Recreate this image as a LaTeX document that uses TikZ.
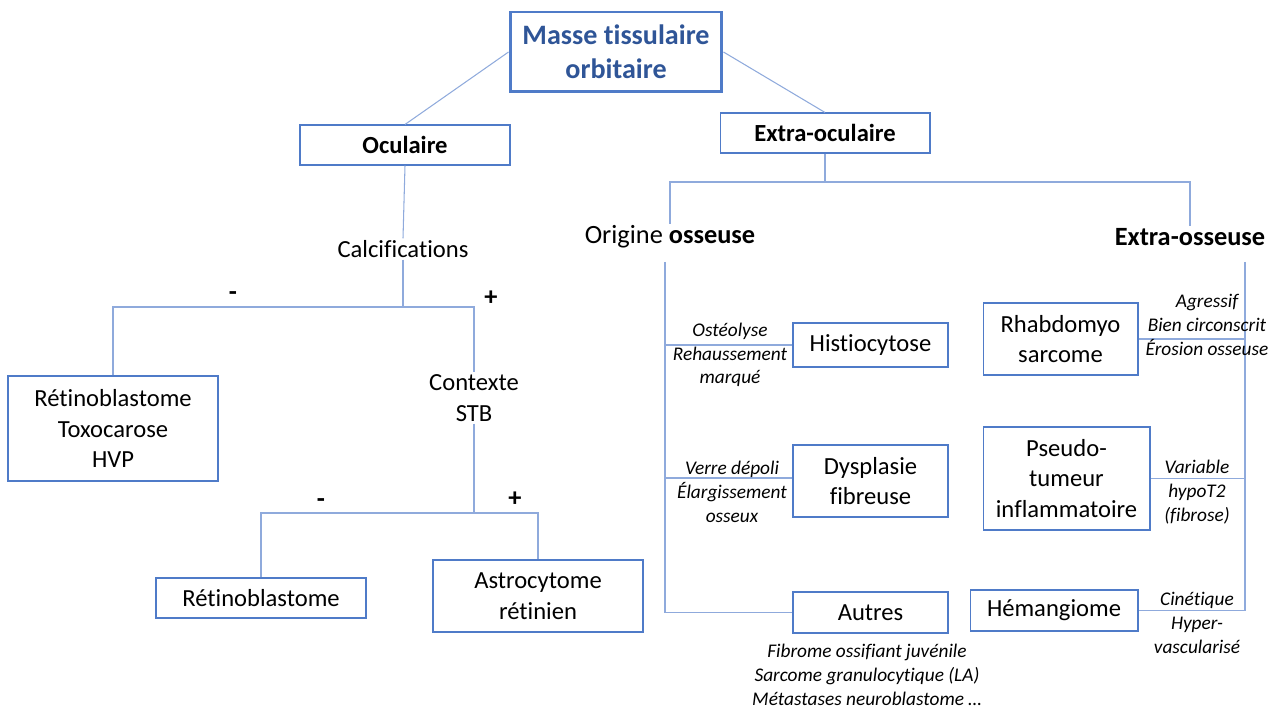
\documentclass[tikz,border=0pt]{standalone}
\usepackage{fontspec}
\setmainfont{Carlito}[Ligatures=NoCommon]
\usetikzlibrary{positioning,calc}
\definecolor{linkblue}{HTML}{8FAADC}
\definecolor{boxblue}{HTML}{4F7BC8}
\definecolor{titleblue}{HTML}{2F5597}
\begin{document}
\begin{tikzpicture}[x=0.02cm,y=-0.02cm,
  box/.style={draw=boxblue,line width=0.6pt,align=center,inner sep=2pt,
    font=\fontsize{14}{17.5}\selectfont},
  txt/.style={align=center,inner sep=1pt,font=\fontsize{14}{17.5}\selectfont},
  note/.style={align=center,inner sep=1pt,font=\fontsize{11}{13.5}\selectfont\itshape},
  sign/.style={inner sep=1pt,font=\fontsize{15}{17}\selectfont\bfseries},
  link/.style={draw=linkblue,line width=0.6pt}]
  \useasboundingbox (0,0) rectangle (1271,709);
  % top of the tree
  \node[box,draw=boxblue,line width=1.7pt,minimum width=4.24cm,minimum height=1.6cm,
    text=titleblue,font=\fontsize{16}{19.3}\selectfont\bfseries] (masse) at (616,52)
    {Masse tissulaire\\orbitaire};
  \node[box,minimum width=4.2cm,minimum height=0.8cm,font=\fontsize{14}{17.5}\selectfont\bfseries]
    (ocul) at (405,145) {Oculaire};
  \node[box,minimum width=4.2cm,minimum height=0.8cm,font=\fontsize{14}{17.5}\selectfont\bfseries]
    (extra) at (825,133) {Extra-oculaire};
  \draw[link] (masse.west) -- (ocul.north);
  \draw[link] (masse.east) -- (extra.north);
  % oculaire
  \node[txt] (calc) at (403,249) {Calcifications};
  \node[txt] (stb) at (474,398) {Contexte\\STB};
  \node[box,minimum width=4.2cm,minimum height=2.1cm] (retox) at (113,428.5)
    {Rétinoblastome\\Toxocarose\\HVP};
  \node[box,minimum width=4.2cm,minimum height=0.8cm] (retino) at (261,598) {Rétinoblastome};
  \node[box,minimum width=4.2cm,minimum height=1.44cm] (astro) at (538,596)
    {Astrocytome\\rétinien};
  \coordinate (c1) at (403,307);
  \coordinate (c2) at (474,513);
  \draw[link] (ocul.south) -- (calc.north);
  \draw[link] (calc.south) -- (c1);
  \draw[link] (retox.north) |- (c1) -| (stb.north);
  \draw[link] (stb.south) -- (c2);
  \draw[link] (retino.north) |- (c2) -| (astro.north);
  \node[sign] at (233,296) {-};
  \node[sign] at (491,298) {+};
  \node[sign] at (321,503) {-};
  \node[sign] at (515,499) {+};
  % extra-oculaire
  \coordinate (e1) at (825,182);
  \node[txt,font=\fontsize{15}{18}\selectfont] (orig) at (670,237) {Origine \textbf{osseuse}};
  \node[txt,font=\fontsize{15}{18}\selectfont\bfseries] (extos) at (1190,237) {Extra-osseuse};
  \draw[link] (extra.south) -- (e1);
  \draw[link] (orig.north) |- (e1) -| (extos.north);
  % origine osseuse
  \node[box,minimum width=3.1cm,minimum height=0.88cm] (histio) at (870.5,345) {Histiocytose};
  \node[box,minimum width=3.1cm,minimum height=1.44cm] (dysp) at (870.5,481) {Dysplasie\\fibreuse};
  \node[box,minimum width=3.1cm,minimum height=0.82cm] (autres) at (870.5,612.5) {Autres};
  \coordinate (o1) at (665,262);
  \draw[link] (o1) |- (autres.west);
  \draw[link] (histio.west) -- (histio.west -| o1);
  \draw[link] (dysp.west) ++(0,-3) -- ($(dysp.west -| o1)+(0,-3)$);
  \node[note] at (730,355) {Ostéolyse\\Rehaussement\\marqué};
  \node[note] at (732,492) {Verre dépoli\\Élargissement\\osseux};
  \node[note,below=5pt of autres,xshift=-2pt] {Fibrome ossifiant juvénile\\Sarcome granulocytique (LA)\\Métastases neuroblastome \dots};
  % extra-osseuse
  \node[box,minimum width=3.1cm,minimum height=1.44cm] (rhabdo) at (1060.5,339) {Rhabdomyo\\sarcome};
  \node[box,minimum width=3.34cm,minimum height=2.06cm] (pseudo) at (1066.5,478.5)
    {Pseudo-\\tumeur\\inflammatoire};
  \node[box,minimum width=3.36cm,minimum height=0.82cm] (hemang) at (1054,610.5) {Hémangiome};
  \coordinate (x1) at (1245,262);
  \draw[link] (x1) |- (hemang.east);
  \draw[link] (rhabdo.east) -- (rhabdo.east -| x1);
  \draw[link] (pseudo.east) -- (pseudo.east -| x1);
  \node[note] at (1207,325) {Agressif\\Bien circonscrit\\Érosion osseuse};
  \node[note] at (1197,492) {Variable\\hypoT2\\(fibrose)};
  \node[note] at (1197,623) {Cinétique\\Hyper-\\vascularisé};
\end{tikzpicture}
\end{document}
